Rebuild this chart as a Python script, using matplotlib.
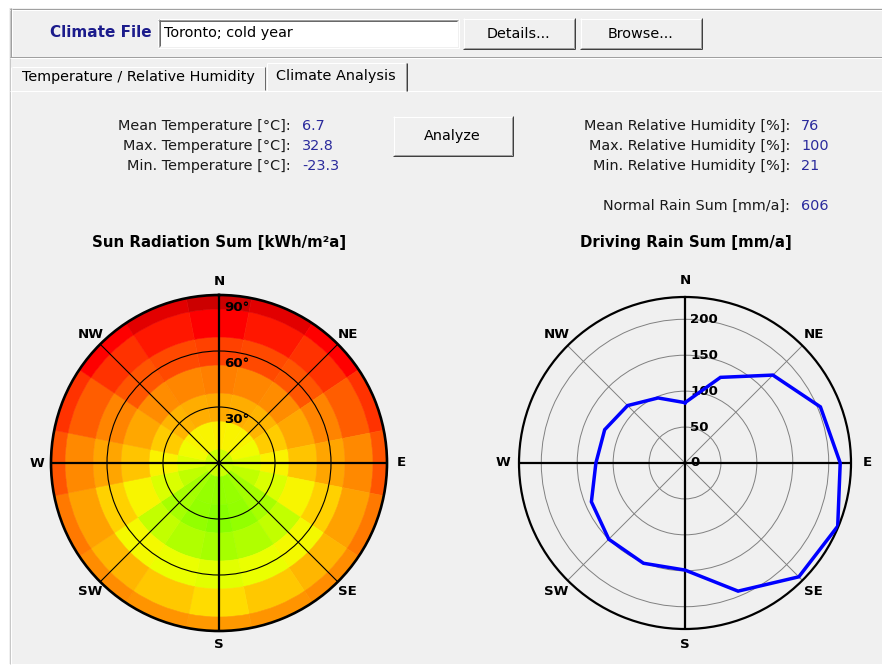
import numpy as np
import matplotlib
matplotlib.use("Agg")
import matplotlib.pyplot as plt
from matplotlib.colors import LinearSegmentedColormap, Normalize
from matplotlib.patches import Rectangle

# ---------------- data ----------------
directions = ['N', 'NNE', 'NE', 'ENE', 'E', 'ESE', 'SE', 'SSE',
              'S', 'SSW', 'SW', 'WSW', 'W', 'WNW', 'NW', 'NNW']
azimuth_deg = [0, 22.5, 45, 67.5, 90, 112.5, 135, 157.5,
               180, 202.5, 225, 247.5, 270, 292.5, 315, 337.5]
tilt_deg = [0, 15, 30, 45, 60, 75, 90]

# sun radiation sum [kWh/m²a], rows = azimuth, columns = tilt
radiation = [
    [1250, 1110, 920, 800, 680, 575, 500],     # N
    [1250, 1125, 935, 820, 700, 610, 535],     # NNE
    [1250, 1125, 950, 840, 725, 650, 575],     # NE
    [1250, 1160, 1025, 915, 815, 740, 650],    # ENE
    [1250, 1210, 1120, 1000, 910, 830, 725],   # E
    [1250, 1275, 1220, 1130, 1035, 900, 790],  # ESE
    [1250, 1340, 1330, 1270, 1150, 960, 840],  # SE
    [1250, 1365, 1375, 1310, 1180, 1010, 860], # SSE
    [1250, 1375, 1400, 1330, 1200, 1060, 875], # S
    [1250, 1365, 1375, 1310, 1180, 1010, 860], # SSW
    [1250, 1340, 1330, 1270, 1150, 960, 840],  # SW
    [1250, 1275, 1220, 1130, 1035, 900, 790],  # WSW
    [1250, 1210, 1120, 1000, 910, 830, 725],   # W
    [1250, 1160, 1025, 915, 815, 740, 650],    # WNW
    [1250, 1125, 950, 840, 725, 650, 575],     # NW
    [1250, 1125, 935, 820, 700, 610, 535],     # NNW
]

# driving rain sum [mm/a] per direction
rain_mm = [84, 129, 173, 204, 216, 230, 224, 193,
           149, 151, 150, 141, 124, 121, 113, 98]

compass_labels = ['N', 'NE', 'E', 'SE', 'S', 'SW', 'W', 'NW']
compass_az = [0, 45, 90, 135, 180, 225, 270, 315]
tilt_ticks = [30, 60, 90]
rain_ticks = [0, 50, 100, 150, 200]

left_stats = ['Mean Temperature [°C]:', 'Max. Temperature [°C]:', 'Min. Temperature [°C]:']
left_values = ['6.7', '32.8', '-23.3']
right_stats = ['Mean Relative Humidity [%]:', 'Max. Relative Humidity [%]:',
               'Min. Relative Humidity [%]:', 'Normal Rain Sum [mm/a]:']
right_values = ['76', '100', '21', '606']

level_colors = ['#cc0000', '#ff0000', '#ff3300', '#ff5500', '#ff7f00', '#ff9900',
                '#ffb300', '#ffcc00', '#ffee00', '#eeff00', '#ccff00', '#aaff00', '#88ff00']

# ---------------- figure ----------------
W, H = 882, 667
fig = plt.figure(figsize=(W / 100, H / 100), dpi=100)
fig.patch.set_facecolor('white')
plt.rcParams['font.family'] = ['DejaVu Sans']

bg = fig.add_axes([0, 0, 1, 1])
bg.set_xlim(0, W)
bg.set_ylim(H, 0)
bg.axis('off')

PX = 0.72  # one pixel in points
GRAY = '#f0f0f0'
BLUE_TXT = '#2a2a9c'


def hline(x0, x1, y, c, lw=1):
    bg.plot([x0, x1], [y + 0.5, y + 0.5], color=c, lw=lw * PX, solid_capstyle='butt')


def vline(x, y0, y1, c, lw=1):
    bg.plot([x + 0.5, x + 0.5], [y0, y1], color=c, lw=lw * PX, solid_capstyle='butt')


def raised(x0, y0, x1, y1, face=GRAY):
    bg.add_patch(Rectangle((x0, y0), x1 - x0, y1 - y0, fc=face, ec='none'))
    hline(x0, x1, y0, '#ffffff')
    vline(x0, y0, y1, '#ffffff')
    hline(x0, x1 + 1, y1, '#404040')
    vline(x1, y0, y1 + 1, '#404040')
    hline(x0 + 1, x1, y1 - 1, '#a0a0a0')
    vline(x1 - 1, y0 + 1, y1, '#a0a0a0')


def sunken(x0, y0, x1, y1, face='white'):
    bg.add_patch(Rectangle((x0, y0), x1 - x0, y1 - y0, fc=face, ec='none'))
    hline(x0, x1, y0, '#a0a0a0')
    vline(x0, y0, y1, '#a0a0a0')
    hline(x0 + 1, x1 - 1, y0 + 1, '#696969')
    vline(x0 + 1, y0 + 1, y1 - 1, '#696969')
    hline(x0, x1 + 1, y1, '#ffffff')
    vline(x1, y0, y1 + 1, '#ffffff')


# window background
bg.add_patch(Rectangle((9, 8), W - 9, 656, fc=GRAY, ec='none'))
vline(9, 8, 664, '#c8c8c8')

# top group box
hline(10, W, 8, '#a0a0a0')
hline(10, W, 9, '#ffffff')
vline(10, 8, 57, '#a0a0a0')
vline(11, 9, 56, '#ffffff')
hline(10, W, 56, '#a0a0a0')
hline(10, W, 57, '#ffffff')

bg.text(152, 32.5, 'Climate File', ha='right', va='center', fontsize=11,
        fontweight='bold', color='#1c1c8c')
sunken(158, 19, 458, 47)
bg.text(164, 33, 'Toronto; cold year', ha='left', va='center', fontsize=10.4, color='black')
raised(463, 18, 574, 48)
bg.text(518.5, 33.5, 'Details...', ha='center', va='center', fontsize=10.4)
raised(580, 18, 701, 48)
bg.text(640.5, 33.5, 'Browse...', ha='center', va='center', fontsize=10.4)

# tabs
hline(10, W, 90, '#ffffff')
vline(10, 90, 664, '#ffffff')
# unselected tab
hline(12, 264, 66, '#ffffff')
vline(10, 67, 90, '#ffffff')
vline(264, 67, 90, '#696969')
bg.text(138, 77.5, 'Temperature / Relative Humidity', ha='center', va='center', fontsize=10.4)
# selected tab
bg.add_patch(Rectangle((266, 62), 141, 30, fc=GRAY, ec='none'))
hline(267, 405, 62, '#ffffff')
vline(266, 63, 91, '#ffffff')
vline(406, 63, 91, '#404040')
vline(405, 63, 91, '#a0a0a0')
bg.text(335.5, 76, 'Climate Analysis', ha='center', va='center', fontsize=10.4)

# statistics
for i, (lab, val) in enumerate(zip(left_stats, left_values)):
    y = 126 + 20 * i
    bg.text(291, y, lab, ha='right', va='center', fontsize=10.4, color='#1a1a1a')
    bg.text(302, y, val, ha='left', va='center', fontsize=10.4, color=BLUE_TXT)
right_y = [126, 146, 166, 206]
for lab, val, y in zip(right_stats, right_values, right_y):
    bg.text(790, y, lab, ha='right', va='center', fontsize=10.4, color='#1a1a1a')
    bg.text(801, y, val, ha='left', va='center', fontsize=10.4, color=BLUE_TXT)

raised(393, 116, 512, 155)
bg.text(452.5, 136, 'Analyze', ha='center', va='center', fontsize=10.4)

# chart titles
bg.text(219, 243, 'Sun Radiation Sum [kWh/m²a]', ha='center', va='center',
        fontsize=10.8, fontweight='bold')
bg.text(686, 243, 'Driving Rain Sum [mm/a]', ha='center', va='center',
        fontsize=10.8, fontweight='bold')

# ---------------- left polar: sun radiation ----------------
cmap = LinearSegmentedColormap.from_list('sun', level_colors)
norm = Normalize(vmin=500, vmax=1400)

cxL, cyL, RL = 219, 463, 168
axL = fig.add_axes([(cxL - RL) / W, (H - cyL - RL) / H, 2 * RL / W, 2 * RL / H],
                   projection='polar')
axL.set_theta_zero_location('N')
axL.set_theta_direction(-1)
axL.set_facecolor('none')

tilts = np.array(tilt_deg, dtype=float)
edges = np.concatenate([[tilts[0]], (tilts[:-1] + tilts[1:]) / 2, [tilts[-1]]])
rad = np.array(radiation, dtype=float)
theta = np.radians(azimuth_deg)
width = np.radians(360 / len(azimuth_deg))
for j in range(len(tilts)):
    cols = cmap(norm(rad[:, j]))
    axL.bar(theta, edges[j + 1] - edges[j], width=width, bottom=edges[j],
            color=cols, edgecolor=cols, linewidth=0.4, zorder=1)

axL.set_ylim(0, tilt_deg[-1])
axL.set_xticks(np.radians([45, 135, 225, 315]))
axL.set_xticklabels([])
axL.set_yticks(tilt_ticks[:-1])
axL.set_yticklabels([])
axL.set_axisbelow(False)
axL.grid(True, color='black', lw=0.8)
axL.spines['polar'].set_linewidth(1.9)
axL.spines['polar'].set_color('black')
for a in [0, 90, 180, 270]:
    axL.plot([np.radians(a)] * 2, [0, tilt_deg[-1]], color='black', lw=1.6, zorder=3,
             solid_capstyle='butt')
for t in tilt_ticks:
    axL.annotate(f'{t}°', xy=(0, t - 6.5), xytext=(3.6, 0), textcoords='offset points',
                 ha='left', va='center', fontsize=9.6, fontweight='bold',
                 annotation_clip=False, zorder=4)
for lab, az in zip(compass_labels, compass_az):
    axL.text(np.radians(az), tilt_deg[-1] * 182 / RL, lab, ha='center', va='center',
             fontsize=9.6, fontweight='bold', clip_on=False)

# ---------------- right polar: driving rain ----------------
cxR, cyR, RR = 685, 463, 166
RMAX = 231
axR = fig.add_axes([(cxR - RR) / W, (H - cyR - RR) / H, 2 * RR / W, 2 * RR / H],
                   projection='polar')
axR.set_theta_zero_location('N')
axR.set_theta_direction(-1)
axR.set_facecolor('none')
axR.set_ylim(0, RMAX)
axR.set_xticks(np.radians([45, 135, 225, 315]))
axR.set_xticklabels([])
axR.set_yticks(rain_ticks[1:])
axR.set_yticklabels([])
axR.grid(True, color='#808080', lw=0.7)
axR.spines['polar'].set_linewidth(1.6)
axR.spines['polar'].set_color('black')
for a in [0, 90, 180, 270]:
    axR.plot([np.radians(a)] * 2, [0, RMAX], color='black', lw=1.6, zorder=3,
             solid_capstyle='butt')
th = np.radians(azimuth_deg + azimuth_deg[:1])
rr = rain_mm + rain_mm[:1]
axR.plot(th, rr, color='#0000ff', lw=2.5, zorder=5, solid_joinstyle='miter')
for t in rain_ticks:
    axR.annotate(str(t), xy=(0, t), xytext=(3.6, 0), textcoords='offset points',
                 ha='left', va='center', fontsize=9.6, fontweight='bold',
                 annotation_clip=False, zorder=4)
for lab, az in zip(compass_labels, compass_az):
    axR.text(np.radians(az), RMAX * 182 / RR, lab, ha='center', va='center',
             fontsize=9.6, fontweight='bold', clip_on=False)

fig.savefig('out.png', dpi=100, facecolor=fig.get_facecolor())
